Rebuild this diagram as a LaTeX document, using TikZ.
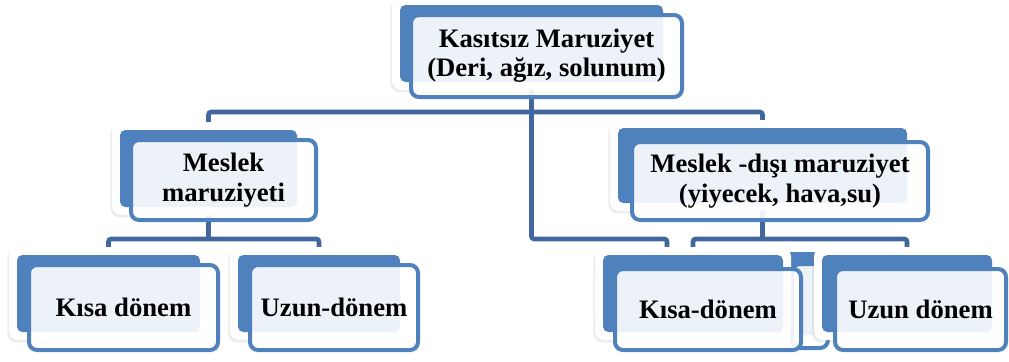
\documentclass[tikz,border=0pt]{standalone}
\usepackage{fontspec}
\setmainfont{Liberation Serif}
\usetikzlibrary{shadows}
\definecolor{boxblue}{RGB}{79,129,189}
\definecolor{connblue}{RGB}{66,103,158}
\pgfdeclarelayer{bg}\pgfsetlayers{bg,main}
\tikzset{
 wh/.style 2 args={minimum width=#1*0.75pt, minimum height=#2*0.75pt},
 halo/.style={fill=white, rounded corners=7pt, inner sep=0pt, outer sep=0pt,
   drop shadow={shadow xshift=-1.2pt, shadow yshift=-1.8pt, opacity=0.12, fill=black!60}},
 backbox/.style={fill=boxblue, rounded corners=4pt, inner sep=0pt, outer sep=0pt},
 frontbox/.style={fill=white, fill opacity=0.9, text opacity=1, draw opacity=1,
   draw=boxblue, line width=3pt, rounded corners=6pt, inner sep=0pt, outer sep=0pt,
   align=center, font=\bfseries\fontsize{20}{22}\selectfont},
 conn/.style={draw=connblue, line width=3.5pt, rounded corners=2pt},
}
\begin{document}
\begin{tikzpicture}[x=0.75pt,y=-0.75pt]
\useasboundingbox (0,0) rectangle (1009,361);
% top
\node[halo, wh={279}{93}] at (531.5,43.5) {};
\node[backbox, wh={263}{77}] (topb) at (531.5,43.5) {};
\node[frontbox, wh={271}{82}] (top) at (546.5,56) {Kasıtsız Maruziyet\\(Deri, ağız, solunum)};
% meslek
\node[halo, wh={193}{93}] at (208.5,168.5) {};
\node[backbox, wh={177}{77}] (mb) at (208.5,168.5) {};
\node[frontbox, wh={185}{80}] (m) at (223.5,180) {Meslek\\maruziyeti};
% meslek disi
\node[halo, wh={305}{91}] at (762.5,165.5) {};
\node[backbox, wh={289}{75}] (db) at (762.5,165.5) {};
\node[frontbox, wh={296}{78}] (d) at (780,181) {Meslek -dışı maruziyet\\(yiyecek, hava,su)};
% kisa 1
\node[halo, wh={199}{93}] at (108.5,293.5) {};
\node[backbox, wh={183}{77}] (k1b) at (108.5,293.5) {};
\node[frontbox, wh={189}{85}] (k1) at (123.5,307.5) {Kısa dönem};
% uzun 1
\node[halo, wh={178}{93}] at (319,293.5) {};
\node[backbox, wh={162}{77}] (u1b) at (319,293.5) {};
\node[frontbox, wh={168}{85}] (u1) at (334,307.5) {Uzun-dönem};
% hidden piece between right boxes
\fill[boxblue, rounded corners=4pt] (785,252) rectangle (825,335);
\draw[boxblue, line width=3pt, fill=white, fill opacity=0.9, draw opacity=1, rounded corners=6pt] (792,264) rectangle (828,348);
% kisa 2
\node[halo, wh={196}{93}] at (693,293.5) {};
\node[backbox, wh={180}{77}] (k2b) at (693,293.5) {};
\node[frontbox, wh={186}{81}] (k2) at (708,309.5) {Kısa-dönem};
% uzun 2
\node[halo, wh={186}{93}] at (907,293.5) {};
\node[backbox, wh={170}{77}] (u2b) at (907,293.5) {};
\node[frontbox, wh={171}{81}] (u2) at (920.5,309.5) {Uzun dönem};
% connectors
\coordinate (j1) at (532,112);
\coordinate (j2) at (667,239);
\coordinate (j3) at (208,239);
\coordinate (j4) at (762,239);
\begin{pgfonlayer}{bg}
\draw[conn] (mb.center) -- (mb.center |- j1) -- (db.center |- j1) -- (db.center);
\draw[conn] (topb.center) -- (topb.center |- j2) -- (j2) -- (j2 |- k2b.center);
\draw[conn] (k1b.center) -- (k1b.center |- j3) -- (u1b.center |- j3) -- (u1b.center);
\draw[conn] (mb.center) -- (mb.center |- j3);
\draw[conn] (k2b.center) -- (k2b.center |- j4) -- (u2b.center |- j4) -- (u2b.center);
\draw[conn] (db.center) -- (db.center |- j4);
\end{pgfonlayer}
\end{tikzpicture}
\end{document}
